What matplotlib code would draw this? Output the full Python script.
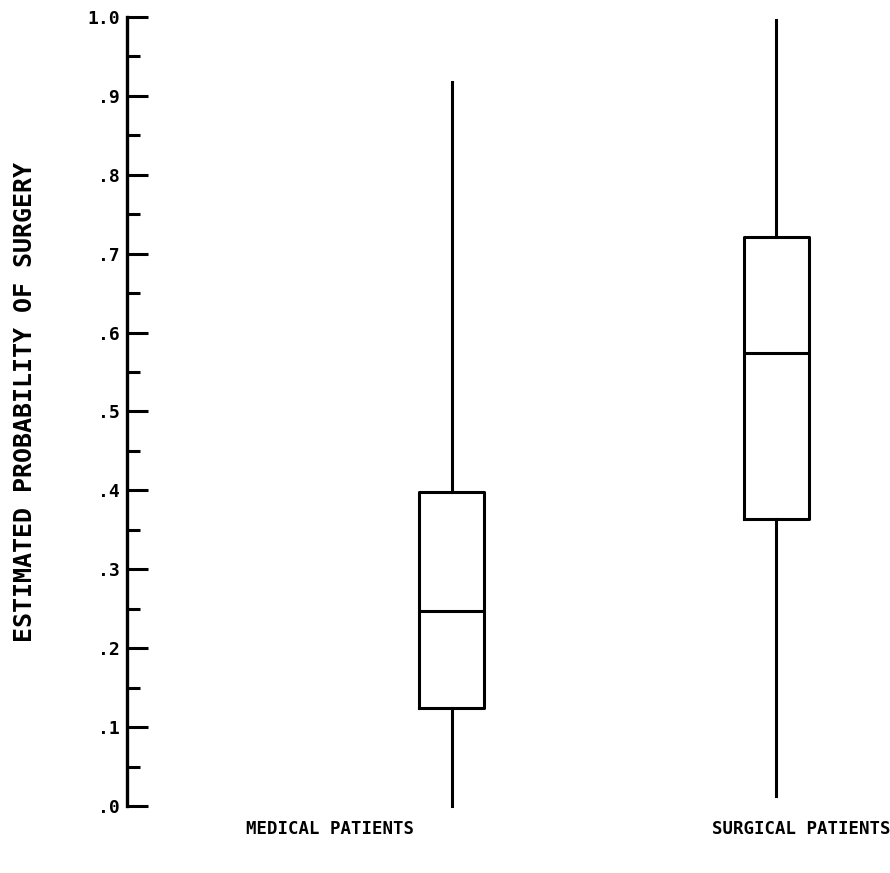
import matplotlib
matplotlib.use("Agg")
import matplotlib.pyplot as plt
import numpy as np

# box summaries
groups = ["MEDICAL PATIENTS", "SURGICAL PATIENTS"]
whis_lo = [0.0, 0.013]
q1 = [0.124, 0.364]
med = [0.247, 0.574]
q3 = [0.398, 0.721]
whis_hi = [0.918, 0.996]

yticks = np.arange(0, 1.01, 0.1)
ytick_labels = [".0", ".1", ".2", ".3", ".4", ".5", ".6", ".7", ".8", ".9", "1.0"]

plt.rcParams['font.family'] = ['DejaVu Sans Mono']
plt.rcParams['font.weight'] = 'bold'

fig = plt.figure(figsize=(8.9, 8.73), dpi=100)
ax = fig.add_axes([127/890, 67/873, 763/890, 789/873])

stats = []
for i in range(len(groups)):
    stats.append(dict(whislo=whis_lo[i], q1=q1[i], med=med[i], q3=q3[i],
                      whishi=whis_hi[i], fliers=[], label=groups[i]))

lw = 2.2
ax.bxp(stats, positions=[1.0, 2.0], widths=0.2, showcaps=False,
       boxprops=dict(color='black', linewidth=lw),
       medianprops=dict(color='black', linewidth=lw),
       whiskerprops=dict(color='black', linewidth=lw))
for ln in ax.lines:
    ln.set_clip_on(False)

ax.set_xlim(0, 2.35)
ax.set_ylim(0, 1.0)

ax.set_yticks(yticks)
ax.set_yticklabels(ytick_labels)
ax.set_yticks(np.arange(0.05, 1.0, 0.1), minor=True)
ax.tick_params(axis='y', which='major', direction='in', length=15, width=2.2,
               pad=5, labelsize=13)
ax.tick_params(axis='y', which='minor', direction='in', length=9, width=2.2)
ax.set_xticks([])
for s in ['top', 'right', 'bottom']:
    ax.spines[s].set_visible(False)
ax.spines['left'].set_linewidth(2.4)

fig.text(330/890, 44/873, groups[0], ha='center', va='center', fontsize=12.5)
fig.text(801/890, 44/873, groups[1], ha='center', va='center', fontsize=12.5)
fig.text(25/890, (873-402)/873, "ESTIMATED PROBABILITY OF SURGERY",
         rotation=90, ha='center', va='center', fontsize=18)

fig.savefig("out.png", dpi=100)
